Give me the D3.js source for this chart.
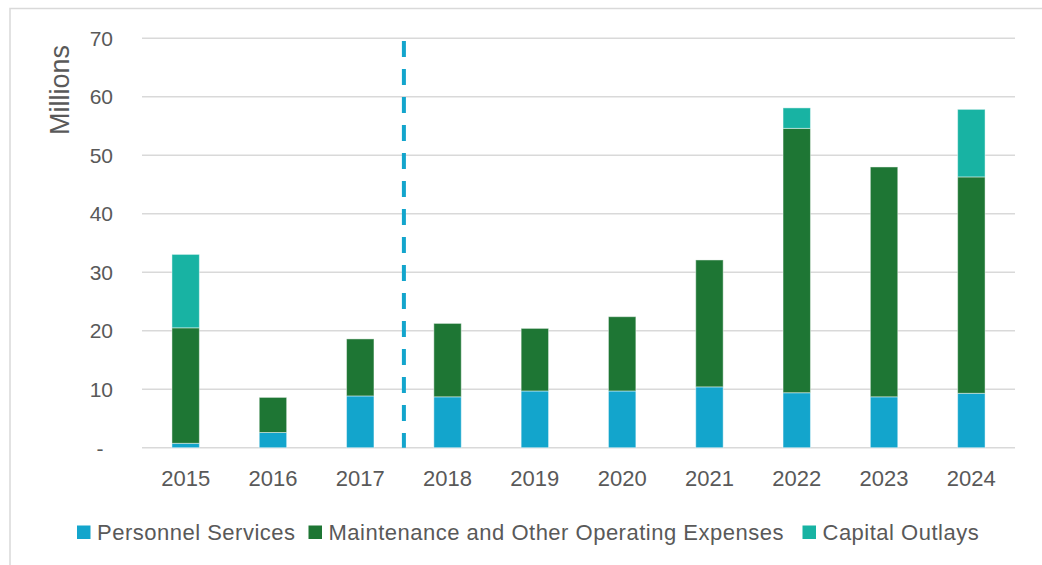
<!DOCTYPE html>
<html>
<head>
<meta charset="utf-8">
<script src="https://cdn.jsdelivr.net/npm/d3@7"></script>
<style>
  html, body { margin: 0; padding: 0; background: #ffffff; }
  svg { display: block; }
  text { font-family: "Liberation Sans", Arial, sans-serif; fill: #595959; }
</style>
</head>
<body>
<svg id="chart" width="1042" height="565"></svg>
<script>
const years = ["2015","2016","2017","2018","2019","2020","2021","2022","2023","2024"];
const personnel = [0.75, 2.6, 8.85, 8.7, 9.7, 9.7, 10.4, 9.4, 8.7, 9.3];
const mooe = [19.75, 6.0, 9.75, 12.55, 10.7, 12.7, 21.7, 45.2, 39.3, 37.0];
const capital = [12.55, 0, 0, 0, 0, 0, 0, 3.5, 0, 11.55];
const seriesNames = ["Personnel Services", "Maintenance and Other Operating Expenses", "Capital Outlays"];
const seriesColors = ["#13a5cc", "#1e7634", "#18b3a3"];
const yTicks = [0, 10, 20, 30, 40, 50, 60, 70];
const yTickLabels = ["-", "10", "20", "30", "40", "50", "60", "70"];
const axisTitle = "Millions";
const dividerAfter = "2017";

const svg = d3.select("#chart");

// outer chart border
svg.append("rect")
  .attr("x", 10).attr("y", 8.5).attr("width", 1200).attr("height", 700)
  .attr("fill", "none").attr("stroke", "#d9d9d9").attr("stroke-width", 1.5);

const x = d3.scaleBand().domain(years).range([142, 1015]).paddingInner(0.686).paddingOuter(0.343);
const y = d3.scaleLinear().domain([0, 70]).range([447.7, 38.3]);

// gridlines
svg.append("g").selectAll("line").data(yTicks).join("line")
  .attr("x1", 142).attr("x2", 1015)
  .attr("y1", d => y(d)).attr("y2", d => y(d))
  .attr("stroke", "#d9d9d9").attr("stroke-width", 1.5);

// y tick labels
svg.append("g").selectAll("text").data(yTicks).join("text")
  .attr("x", d => d === 0 ? 100 : 113)
  .attr("y", d => y(d) + (d === 0 ? 1 : 0))
  .attr("text-anchor", d => d === 0 ? "middle" : "end")
  .attr("dominant-baseline", "central")
  .attr("font-size", 21)
  .text((d, i) => yTickLabels[i]);

// axis title
svg.append("text")
  .attr("transform", "translate(60,90) rotate(-90)")
  .attr("text-anchor", "middle")
  .attr("dominant-baseline", "central")
  .attr("font-size", 27)
  .text(axisTitle);

// stacked data
const rows = years.map((yr, i) => ({ year: yr, p: personnel[i], m: mooe[i], c: capital[i] }));
const stack = d3.stack().keys(["p", "m", "c"]);
const stacked = stack(rows);

svg.append("g").selectAll("g").data(stacked).join("g")
  .attr("fill", (d, i) => seriesColors[i])
  .selectAll("rect").data(d => d.filter(v => v[1] - v[0] > 0)).join("rect")
  .attr("x", d => x(d.data.year))
  .attr("width", x.bandwidth())
  .attr("y", d => y(d[1]))
  .attr("height", d => y(d[0]) - y(d[1]))
  .attr("stroke", "rgba(255,255,255,0.45)")
  .attr("stroke-width", 1);

// x labels
svg.append("g").selectAll("text").data(years).join("text")
  .attr("x", d => x(d) + x.bandwidth() / 2)
  .attr("y", 478)
  .attr("text-anchor", "middle")
  .attr("dominant-baseline", "central")
  .attr("font-size", 22)
  .text(d => d);

// divider dashed line
const step = x.step();
const divX = x(dividerAfter) + x.bandwidth() + (step - x.bandwidth()) / 2;
svg.append("line")
  .attr("x1", divX).attr("x2", divX)
  .attr("y1", 41).attr("y2", y(0))
  .attr("stroke", "#13a5cc").attr("stroke-width", 4)
  .attr("stroke-dasharray", "16,12");

// legend
const legendX = [77, 308.5, 802.5];
const lg = svg.append("g").selectAll("g").data(seriesNames).join("g")
  .attr("transform", (d, i) => `translate(${legendX[i]},0)`);
lg.append("rect")
  .attr("x", 0).attr("y", 525.5).attr("width", 13.5).attr("height", 13.5)
  .attr("fill", (d, i) => seriesColors[i]);
lg.append("text")
  .attr("x", 20).attr("y", 532)
  .attr("dominant-baseline", "central")
  .attr("font-size", 22)
  .attr("letter-spacing", 0.5)
  .text(d => d);
</script>
</body>
</html>
